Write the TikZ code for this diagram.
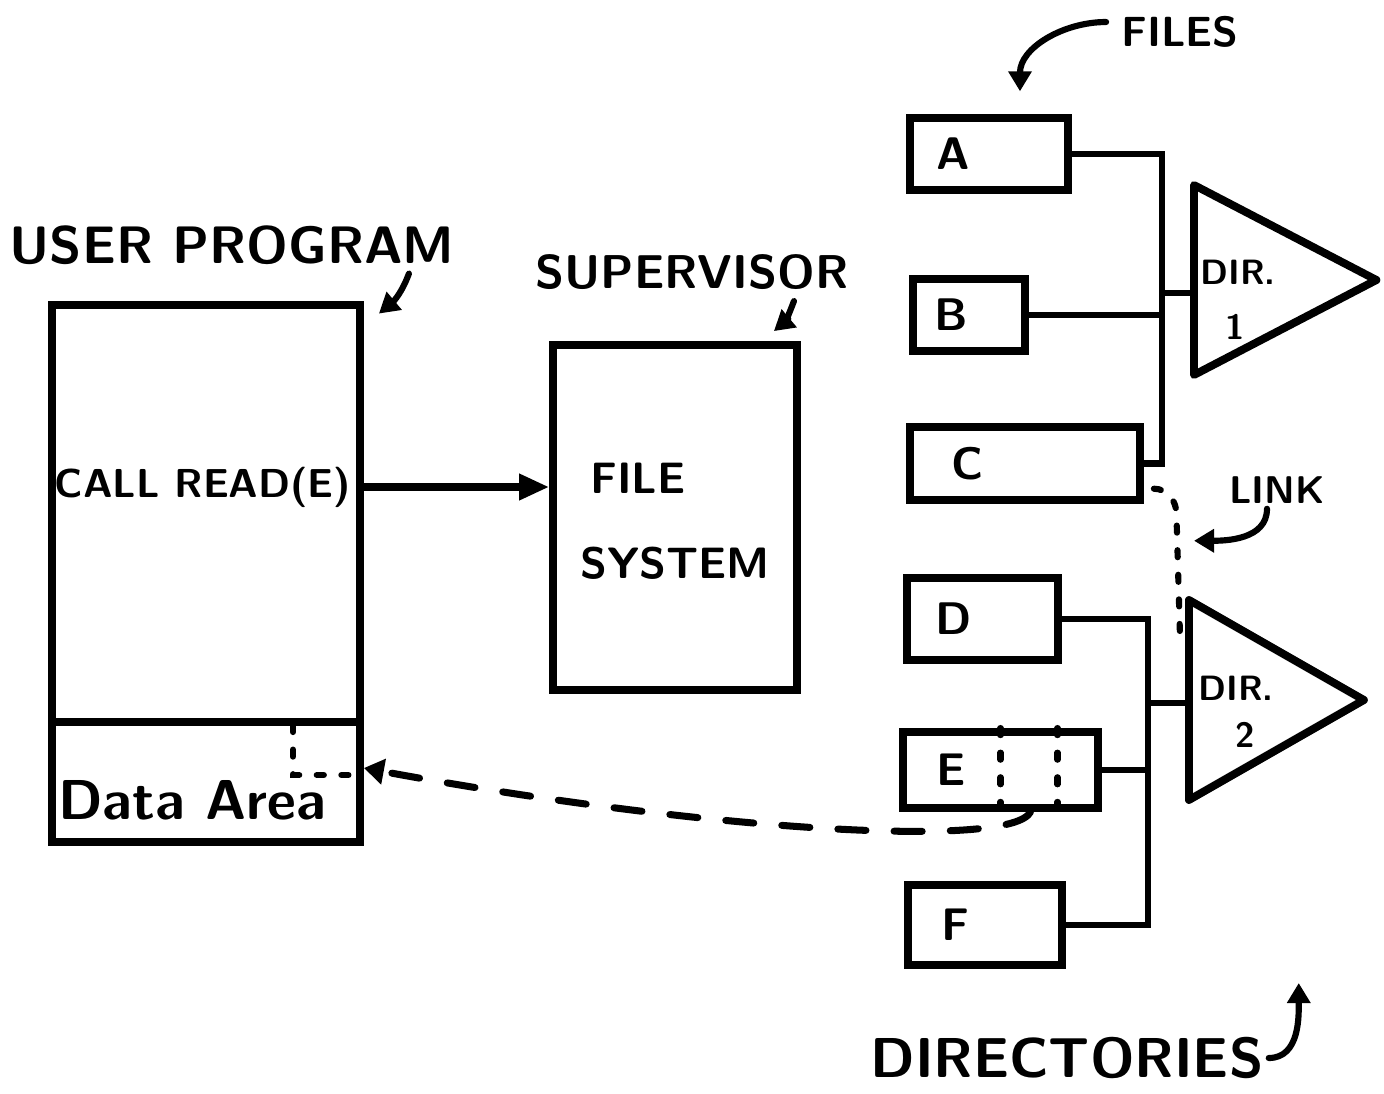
\documentclass[tikz,border=0pt]{standalone}
\usetikzlibrary{positioning,calc,arrows.meta,shapes.geometric}
\tikzset{
  box/.style  ={rectangle, draw=black, line width=4.5pt, inner sep=0pt, fill=white},
  fbox/.style ={box, minimum height=1.45cm},
  dir/.style  ={isosceles triangle, isosceles triangle stretches, draw=black, line width=4.5pt, line join=round, inner sep=0pt, anchor=lower side},
  hand/.style ={font=\sffamily\bfseries\fontsize{#1pt}{#1pt}\selectfont, inner sep=0pt},
  hand/.default=24,
  wire/.style ={draw=black, line width=3.5pt},
  e/.style    ={-{Triangle[length=6mm,width=5mm]}, draw=black, line width=4pt},
  ptr/.style  ={-{Triangle[length=4mm,width=4.5mm]}, draw=black, line width=3.5pt, line cap=round},
  dots/.style ={draw=black, line width=3.5pt, line cap=round, dash pattern=on 4pt off 10pt},
  dashes/.style={-{Triangle[length=4mm,width=5mm]}, draw=black, line width=4pt, line cap=round, dash pattern=on 16pt off 16pt},
}
\begin{document}
\begin{tikzpicture}[x=0.02cm, y=-0.02cm]
\useasboundingbox (0,0) rectangle (1384,1093);
\node[box, minimum width=6.16cm, minimum height=8.34cm] (prog) at (206,513.5) {};
\node[box, minimum width=6.16cm, minimum height=2.4cm] (data) at (206,782) {};
\node[hand=30] (userlbl) at (232,245) {USER PROGRAM};
\node[hand=23] (call) at (203,487) {CALL READ(E)};
\node[hand=32] (datalbl) at (192,800) {Data Area};
\node[box, minimum width=4.88cm, minimum height=6.9cm] (sup) at (675,517.5) {};
\node[hand=27] (suplbl) at (692,272) {SUPERVISOR};
\node[hand=25] (filelbl) at (638,478) {FILE};
\node[hand=25] (syslbl) at (675,563) {SYSTEM};
\node[fbox, minimum width=3.16cm] (A) at (989,154) {};
\node[fbox, minimum width=2.24cm] (B) at (969,315) {};
\node[fbox, minimum width=4.6cm] (C) at (1025,463.5) {};
\node[fbox, minimum width=3.02cm, minimum height=1.64cm] (D) at (982.5,619) {};
\node[fbox, minimum width=3.9cm, minimum height=1.52cm] (E) at (1000.5,770) {};
\node[fbox, minimum width=3.08cm, minimum height=1.6cm] (F) at (985,925) {};
\node[hand=26, right=0.6cm of A.west] (Alab) {A};
\node[hand=26, right=0.5cm of B.west] (Blab) {B};
\node[hand=26, right=0.9cm of C.west] (Clab) {C};
\node[hand=26, right=0.65cm of D.west] (Dlab) {D};
\node[hand=26, right=0.75cm of E.west] (Elab) {E};
\node[hand=26, right=0.75cm of F.west] (Flab) {F};
\draw[dots] (E.north) -- (E.south);
\draw[dots] ([xshift=1.14cm]E.north) -- ([xshift=1.14cm]E.south);
\node[dir, minimum width=3.8cm, minimum height=3.65cm] (dir1) at (1190,280) {};
\node[dir, minimum width=4cm, minimum height=3.5cm] (dir2) at (1185,700) {};
\node[hand=20] (dir1a) at (1238,272) {DIR.};
\node[hand=20] (dir1b) at (1235,327) {1};
\node[hand=20] (dir2a) at (1236,688) {DIR.};
\node[hand=20] (dir2b) at (1245,735) {2};
\coordinate (b1) at (1162,293);
\draw[wire] (A.east) -| (b1) |- (C.east);
\draw[wire] (B.east) -- (B.east -| b1);
\draw[wire] (b1) -- (b1 -| dir1.left corner);
\coordinate (b2) at (1148,703);
\draw[wire] (D.east) -| (b2) |- (F.east);
\draw[wire] (E.east) -- (E.east -| b2);
\draw[wire] (b2) -- (b2 -| dir2.left corner);
\draw[e] (prog.east |- call) -- (sup.west |- call);
\coordinate (lk) at (1180,636);
\draw[dots] ([xshift=0.2cm,yshift=0.3cm]C.south east) to[out=0,in=90] ++(0.45cm,-0.5cm) -- (lk);
\node[hand=22] (linklbl) at (1277,490) {LINK};
\draw[ptr] ([xshift=-0.2cm,yshift=-0.1cm]linklbl.south) to[out=-90,in=0] ++(-1.46cm,-0.64cm);
\node[hand=24] (fileslbl) at (1180,32) {FILES};
\draw[ptr] ([xshift=-0.3cm,yshift=0.2cm]fileslbl.west) to[out=180,in=90] ([xshift=0.62cm,yshift=0.45cm]A.north);
\node[hand=32] (dirslbl) at (1067,1058) {DIRECTORIES};
\draw[ptr] ([xshift=0.1cm]dirslbl.east) to[out=0,in=-90] ++(0.6cm,1.5cm);
\draw[ptr] ([shift={(0.9cm,0.55cm)}]prog.north east) to[out=-110,in=40] ([shift={(0.3cm,-0.25cm)}]prog.north east);
\draw[ptr] ([shift={(-0.14cm,0.8cm)}]sup.north east) to[out=-110,in=40] ([shift={(-0.54cm,0.2cm)}]sup.north east);
\coordinate (dl) at (293,725);
\draw[dots] (dl) |- ([yshift=0.14cm]data.east);
\draw[dashes] ([xshift=0.6cm]E.south) .. controls +(-0.4cm,-0.76cm) and +(6.7cm,-1.24cm) .. ([yshift=0.28cm]data.east);
\end{tikzpicture}
\end{document}
